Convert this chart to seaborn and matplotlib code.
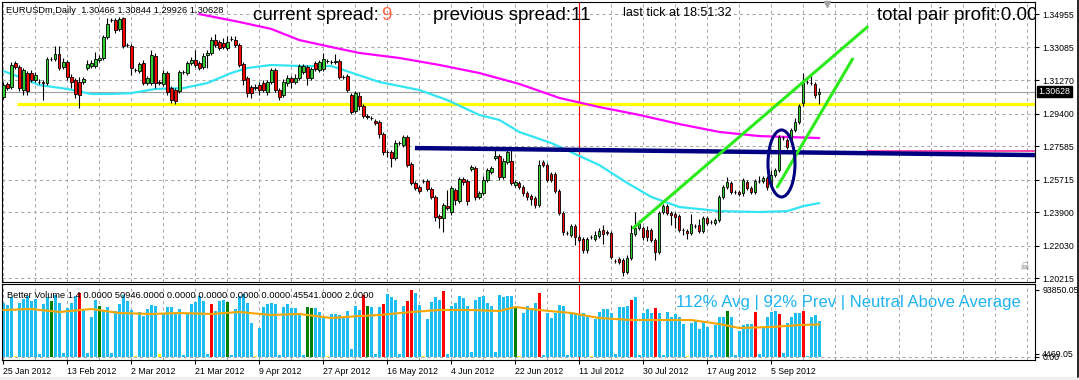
import matplotlib
matplotlib.use("Agg")
import numpy as np
import matplotlib.pyplot as plt
import matplotlib.transforms as mtrans
from matplotlib.patches import Ellipse, Rectangle
from matplotlib.lines import Line2D
import seaborn as sns

# ---------------- data ----------------
symbol = "EURUSDm,Daily"

opens = [
    1.3032, 1.3105, 1.3088, 1.3222, 1.3200, 1.3071, 1.3166, 1.3166, 1.3127, 1.3116,
    1.3116, 1.3110, 1.3244, 1.3244, 1.3272, 1.3200, 1.3228, 1.3144, 1.3127, 1.3116,
    1.3116, 1.3194, 1.3205, 1.3205, 1.3239, 1.3250, 1.3367, 1.3462, 1.3462, 1.3412,
    1.3473, 1.3322, 1.3317, 1.3183, 1.3177, 1.3222, 1.3110, 1.3110, 1.3261, 1.3110,
    1.3105, 1.3166, 1.3082, 1.3071, 1.3066, 1.3172, 1.3166, 1.3222, 1.3239, 1.3222,
    1.3200, 1.3267, 1.3278, 1.3350, 1.3339, 1.3334, 1.3306, 1.3356, 1.3350, 1.3322,
    1.3216, 1.3138, 1.3088, 1.3082, 1.3099, 1.3110, 1.3060, 1.3116, 1.3183, 1.3071,
    1.3043, 1.3110, 1.3138, 1.3116, 1.3138, 1.3172, 1.3200, 1.3138, 1.3222, 1.3183,
    1.3188, 1.3233, 1.3228, 1.3228, 1.3233, 1.3144, 1.3149, 1.3043, 1.2954, 1.3038,
    1.2982, 1.2926, 1.2915, 1.2898, 1.2893, 1.2826, 1.2725, 1.2725, 1.2692, 1.2775,
    1.2764, 1.2809, 1.2658, 1.2552, 1.2530, 1.2563, 1.2563, 1.2518, 1.2474, 1.2368,
    1.2356, 1.2423, 1.2390, 1.2513, 1.2451, 1.2574, 1.2563, 1.2630, 1.2636, 1.2474,
    1.2496, 1.2569, 1.2613, 1.2692, 1.2703, 1.2586, 1.2669, 1.2675, 1.2541, 1.2552,
    1.2530, 1.2496, 1.2479, 1.2468, 1.2429, 1.2669, 1.2652, 1.2602, 1.2602, 1.2507,
    1.2384, 1.2273, 1.2262, 1.2312, 1.2250, 1.2239, 1.2178, 1.2250, 1.2239, 1.2256,
    1.2289, 1.2278, 1.2273, 1.2116, 1.2128, 1.2122, 1.2055, 1.2133, 1.2267, 1.2301,
    1.2301, 1.2289, 1.2289, 1.2234, 1.2167, 1.2390, 1.2423, 1.2384, 1.2379, 1.2368,
    1.2289, 1.2284, 1.2273, 1.2312, 1.2317, 1.2284, 1.2356, 1.2334, 1.2329, 1.2345,
    1.2474, 1.2530, 1.2552, 1.2502, 1.2502, 1.2496, 1.2558, 1.2524, 1.2502, 1.2563,
    1.2563, 1.2580, 1.2541, 1.2597, 1.2625, 1.2803, 1.2792, 1.2792, 1.2848, 1.2893,
    1.2999, 1.3116, 1.3110, 1.3105, 1.30466,
]
highs = [
    1.3116, 1.3116, 1.3228, 1.3233, 1.3211, 1.3194, 1.3177, 1.3183, 1.3172, 1.3133,
    1.3127, 1.3255, 1.3255, 1.3317, 1.3317, 1.3250, 1.3239, 1.3161, 1.3138, 1.3144,
    1.3144, 1.3239, 1.3239, 1.3283, 1.3267, 1.3378, 1.3473, 1.3473, 1.3473, 1.3479,
    1.3479, 1.3334, 1.3328, 1.3194, 1.3228, 1.3239, 1.3149, 1.3295, 1.3278, 1.3127,
    1.3183, 1.3177, 1.3094, 1.3082, 1.3183, 1.3183, 1.3233, 1.3255, 1.3295, 1.3233,
    1.3278, 1.3295, 1.3367, 1.3384, 1.3350, 1.3362, 1.3373, 1.3373, 1.3373, 1.3334,
    1.3228, 1.3149, 1.3099, 1.3105, 1.3116, 1.3127, 1.3127, 1.3194, 1.3194, 1.3082,
    1.3133, 1.3155, 1.3149, 1.3161, 1.3216, 1.3216, 1.3211, 1.3200, 1.3233, 1.3239,
    1.3278, 1.3244, 1.3239, 1.3272, 1.3244, 1.3155, 1.3161, 1.3054, 1.3066, 1.3060,
    1.2993, 1.2937, 1.2926, 1.2909, 1.2904, 1.2837, 1.2736, 1.2736, 1.2792, 1.2787,
    1.2820, 1.2820, 1.2669, 1.2563, 1.2541, 1.2574, 1.2574, 1.2530, 1.2485, 1.2379,
    1.2440, 1.2513, 1.2535, 1.2524, 1.2586, 1.2586, 1.2574, 1.2652, 1.2647, 1.2507,
    1.2591, 1.2636, 1.2647, 1.2736, 1.2714, 1.2692, 1.2736, 1.2736, 1.2569, 1.2563,
    1.2541, 1.2507, 1.2491, 1.2479, 1.2680, 1.2680, 1.2664, 1.2613, 1.2613, 1.2518,
    1.2395, 1.2284, 1.2323, 1.2323, 1.2262, 1.2250, 1.2250, 1.2262, 1.2284, 1.2301,
    1.2317, 1.2289, 1.2284, 1.2128, 1.2139, 1.2133, 1.2150, 1.2317, 1.2390, 1.2345,
    1.2312, 1.2312, 1.2301, 1.2245, 1.2395, 1.2435, 1.2435, 1.2395, 1.2390, 1.2379,
    1.2301, 1.2295, 1.2379, 1.2323, 1.2351, 1.2368, 1.2368, 1.2345, 1.2356, 1.2485,
    1.2541, 1.2586, 1.2563, 1.2513, 1.2513, 1.2580, 1.2569, 1.2535, 1.2574, 1.2591,
    1.2591, 1.2591, 1.2625, 1.2636, 1.2820, 1.2814, 1.2803, 1.2859, 1.2915, 1.2993,
    1.3166, 1.3127, 1.3166, 1.3116, 1.30844,
]
lows = [
    1.3021, 1.3071, 1.3077, 1.3188, 1.3066, 1.3043, 1.3043, 1.3116, 1.3116, 1.3105,
    1.3015, 1.3099, 1.3233, 1.3233, 1.3183, 1.3188, 1.3127, 1.3082, 1.3027, 1.2971,
    1.3105, 1.3183, 1.3194, 1.3194, 1.3228, 1.3239, 1.3356, 1.3451, 1.3389, 1.3401,
    1.3306, 1.3311, 1.3155, 1.3172, 1.3166, 1.3099, 1.3099, 1.3099, 1.3082, 1.3099,
    1.3094, 1.3043, 1.2999, 1.2993, 1.3054, 1.3161, 1.3155, 1.3211, 1.3200, 1.3183,
    1.3188, 1.3194, 1.3267, 1.3311, 1.3295, 1.3300, 1.3295, 1.3345, 1.3311, 1.3200,
    1.3099, 1.3032, 1.3027, 1.3071, 1.3043, 1.3060, 1.3043, 1.3105, 1.3060, 1.3015,
    1.3032, 1.3094, 1.3082, 1.3105, 1.3127, 1.3161, 1.3099, 1.3127, 1.3177, 1.3172,
    1.3177, 1.3222, 1.3216, 1.3216, 1.3133, 1.3133, 1.3060, 1.2937, 1.2943, 1.2960,
    1.2915, 1.2909, 1.2904, 1.2876, 1.2803, 1.2708, 1.2697, 1.2641, 1.2680, 1.2764,
    1.2753, 1.2641, 1.2541, 1.2513, 1.2496, 1.2552, 1.2507, 1.2463, 1.2340, 1.2301,
    1.2278, 1.2401, 1.2373, 1.2429, 1.2440, 1.2541, 1.2429, 1.2619, 1.2457, 1.2463,
    1.2485, 1.2558, 1.2602, 1.2680, 1.2569, 1.2574, 1.2658, 1.2541, 1.2530, 1.2518,
    1.2479, 1.2457, 1.2429, 1.2412, 1.2418, 1.2641, 1.2558, 1.2558, 1.2496, 1.2373,
    1.2262, 1.2262, 1.2250, 1.2206, 1.2223, 1.2161, 1.2161, 1.2239, 1.2228, 1.2245,
    1.2211, 1.2262, 1.2128, 1.2105, 1.2100, 1.2032, 1.2044, 1.2122, 1.2256, 1.2289,
    1.2234, 1.2228, 1.2223, 1.2122, 1.2156, 1.2379, 1.2373, 1.2317, 1.2301, 1.2278,
    1.2262, 1.2239, 1.2262, 1.2301, 1.2273, 1.2273, 1.2317, 1.2323, 1.2317, 1.2334,
    1.2463, 1.2518, 1.2491, 1.2491, 1.2479, 1.2479, 1.2513, 1.2491, 1.2491, 1.2552,
    1.2552, 1.2513, 1.2530, 1.2586, 1.2613, 1.2792, 1.2742, 1.2781, 1.2837, 1.2881,
    1.2982, 1.3105, 1.3099, 1.3027, 1.29926,
]
closes = [
    1.3099, 1.3082, 1.3211, 1.3200, 1.3082, 1.3183, 1.3066, 1.3127, 1.3155, 1.3118,
    1.3110, 1.3244, 1.3246, 1.3272, 1.3194, 1.3228, 1.3144, 1.3116, 1.3049, 1.3043,
    1.3133, 1.3216, 1.3222, 1.3244, 1.3250, 1.3367, 1.3440, 1.3464, 1.3406, 1.3468,
    1.3317, 1.3324, 1.3194, 1.3185, 1.3216, 1.3110, 1.3138, 1.3267, 1.3110, 1.3116,
    1.3166, 1.3060, 1.3015, 1.3010, 1.3172, 1.3174, 1.3222, 1.3239, 1.3211, 1.3194,
    1.3261, 1.3278, 1.3350, 1.3322, 1.3306, 1.3311, 1.3339, 1.3358, 1.3322, 1.3211,
    1.3127, 1.3054, 1.3054, 1.3088, 1.3071, 1.3071, 1.3116, 1.3183, 1.3071, 1.3032,
    1.3116, 1.3138, 1.3116, 1.3138, 1.3205, 1.3205, 1.3138, 1.3188, 1.3188, 1.3228,
    1.3244, 1.3235, 1.3230, 1.3233, 1.3144, 1.3146, 1.3071, 1.2948, 1.3054, 1.2982,
    1.2926, 1.2920, 1.2917, 1.2887, 1.2826, 1.2725, 1.2727, 1.2692, 1.2775, 1.2777,
    1.2809, 1.2652, 1.2552, 1.2524, 1.2507, 1.2565, 1.2518, 1.2474, 1.2362, 1.2356,
    1.2429, 1.2412, 1.2524, 1.2457, 1.2574, 1.2558, 1.2451, 1.2641, 1.2474, 1.2496,
    1.2569, 1.2625, 1.2636, 1.2703, 1.2586, 1.2675, 1.2725, 1.2552, 1.2558, 1.2530,
    1.2496, 1.2474, 1.2463, 1.2429, 1.2652, 1.2652, 1.2569, 1.2569, 1.2507, 1.2384,
    1.2278, 1.2275, 1.2312, 1.2250, 1.2234, 1.2178, 1.2239, 1.2252, 1.2262, 1.2284,
    1.2267, 1.2273, 1.2139, 1.2118, 1.2111, 1.2055, 1.2133, 1.2273, 1.2301, 1.2323,
    1.2250, 1.2250, 1.2234, 1.2167, 1.2384, 1.2423, 1.2384, 1.2373, 1.2362, 1.2289,
    1.2291, 1.2273, 1.2323, 1.2314, 1.2284, 1.2356, 1.2329, 1.2336, 1.2345, 1.2474,
    1.2530, 1.2558, 1.2502, 1.2504, 1.2491, 1.2569, 1.2524, 1.2502, 1.2563, 1.2565,
    1.2580, 1.2530, 1.2597, 1.2625, 1.2809, 1.2805, 1.2753, 1.2848, 1.2893, 1.2982,
    1.3110, 1.3118, 1.3112, 1.3043, 1.30628,
]
volumes = [
    75600, 72800, 84000, 1400, 75600, 81200, 85400, 78400, 81200, 4200,
    74200, 84000, 78400, 86800, 75600, 5600, 68600, 75600, 85400, 89600,
    67200, 5600, 56000, 79800, 71400, 64400, 70000, 5600, 64400, 74200,
    86800, 78400, 65800, 1400, 63000, 57400, 67200, 72800, 71400, 4200,
    60200, 70000, 70000, 63000, 67200, 2800, 61600, 74200, 77000, 85400,
    78400, 4200, 74200, 64400, 78400, 79800, 77000, 2800, 67200, 85400,
    88200, 75600, 47600, 1400, 40600, 70000, 74200, 75600, 74200, 2800,
    70000, 74200, 68600, 68600, 61600, 2800, 70000, 68600, 68600, 63000,
    56000, 1400, 60200, 60200, 58800, 56000, 64400, 11200, 71400, 65800,
    86800, 71400, 70000, 4200, 70000, 74200, 88200, 84000, 79800, 4200,
    71400, 78400, 93850, 89600, 72800, 1400, 53200, 77000, 84000, 79800,
    92400, 4200, 71400, 75600, 85400, 82600, 71400, 7000, 79800, 84000,
    85400, 75600, 71400, 7000, 86800, 84000, 85400, 85400, 68600, 1400,
    61600, 71400, 67200, 75600, 89600, 2800, 61600, 54600, 61600, 72800,
    71400, 2800, 60200, 60200, 58800, 61600, 56000, 1400, 53200, 63000,
    67200, 67200, 61600, 4200, 70000, 70000, 71400, 79800, 84000, 2800,
    61600, 67200, 61600, 68600, 61600, 2800, 63000, 56000, 60200, 56000,
    46200, 1400, 47600, 50400, 39200, 50400, 42000, 2800, 44800, 56000,
    56000, 64400, 56000, 2800, 36400, 44800, 46200, 46200, 63000, 4200,
    42000, 56000, 63000, 64400, 60200, 5600, 47600, 56000, 61600, 61600,
    64400, 1400, 56000, 58800, 50946,
]
# Better Volume bar class: N normal, C climax high, H high churn, L low volume
vol_type = list(
    "NNNLNNNNNN" "NNHNNNNNNC" "NNNNHNNNNN" "NNNLNNNNNL" "NNNNNNNNNN"
    "NNCNNNHNNN" "NNNLNNNNNN" "NNNNNNHHNN" "NLNNNNNNNN" "CHNNNCNNNN"
    "NCCNNLNNNN" "CNNNNNNNNN" "NNNNNNNNHL" "NNNNCNNNNN" "NNNNNNNLNN"
    "NNNNNNNCNN" "NNNCNNNNNN" "NLNNNNNNNN" "NHNNNNNNCN" "NNNNCNNNNN"
    "CNNNN"
)
vol_avg_idx = [0, 7, 14, 22, 29, 37, 44, 52, 59, 67, 74, 82, 89, 94, 102, 109, 117,
               124, 128, 134, 142, 149, 157, 164, 172, 179, 184, 192, 199, 204]
vol_avg_val = [65800, 67200, 63000, 67200, 61600, 60200, 61600, 60200, 63000, 58800,
               60200, 54600, 57400, 58800, 63000, 65800, 65800, 64400, 70000, 65800,
               61600, 54600, 51800, 51800, 51800, 46200, 40600, 42000, 44800, 45541]

date_labels = ["25 Jan 2012", "13 Feb 2012", "2 Mar 2012", "21 Mar 2012", "9 Apr 2012",
               "27 Apr 2012", "16 May 2012", "4 Jun 2012", "22 Jun 2012", "11 Jul 2012",
               "30 Jul 2012", "17 Aug 2012", "5 Sep 2012"]
price_ticks = [1.34955, 1.33085, 1.31270, 1.29400, 1.27585, 1.25715, 1.23900, 1.22030, 1.20215]

ma_slow_idx = [49, 59, 67, 74, 82, 89, 99, 109, 119, 129, 139, 149, 159, 169, 179, 189, 204]
ma_slow_val = [1.3495, 1.3451, 1.3412, 1.3350, 1.3311, 1.3278, 1.3250, 1.3211, 1.3166,
               1.3105, 1.3027, 1.2976, 1.2932, 1.2881, 1.2837, 1.2814, 1.2803]
ma_fast_idx = [0, 4, 9, 16, 22, 27, 32, 38, 45, 51, 57, 61, 67, 74, 82, 85, 94, 104, 111,
               119, 124, 129, 137, 149, 156, 162, 169, 179, 189, 196, 200, 204]
ma_fast_val = [1.3177, 1.3144, 1.3099, 1.3077, 1.3049, 1.3049, 1.3054, 1.3077, 1.3082,
               1.3110, 1.3166, 1.3194, 1.3211, 1.3205, 1.3205, 1.3183, 1.3116, 1.3071,
               1.3015, 1.2932, 1.2904, 1.2837, 1.2775, 1.2652, 1.2552, 1.2474, 1.2418,
               1.2395, 1.2390, 1.2395, 1.2423, 1.2440]

support_level = 1.2994          # yellow horizontal
support_start = 3.4
navy_idx = [102.9, 257.9]
navy_val = [1.2747, 1.2708]
pink_idx = [216.0, 257.9]
pink_val = [1.2733, 1.2733]
trend_a_idx = [157.5, 216.0]
trend_a_val = [1.2301, 1.3423]
trend_b_idx = [193.5, 212.3]
trend_b_val = [1.2530, 1.3244]
ellipse_center = (194.55, 1.2661)
ellipse_size = (6.75, 0.0374)
marker_bar = 144
shift_bar = 205.9

current_spread = 9
previous_spread = 11
last_tick = "18:51:32"
total_profit = "0.00"
vol_max_label = 93850.05
vol_min_label = 4469.05
bv_header = [1.4, 0.0, 50946.0, 0.0, 0.0, 0.0, 0.0, 45541.0, 2.0]
bv_status = "112% Avg | 92% Prev | Neutral Above Average"

# ---------------- style ----------------
sns.set_style("white")
plt.rcParams['font.family'] = ['Liberation Sans', 'DejaVu Sans']

W, H = 1079, 380
fig = plt.figure(figsize=(W / 100, H / 100), dpi=100)
fig.patch.set_facecolor("white")

def fx(px):
    return px / W

def fy(py):
    return 1 - py / H

X_LEFT, X_RIGHT = 2, 1035
BAR_PX = 4.0
ax = fig.add_axes([fx(X_LEFT), fy(282), (X_RIGHT - X_LEFT) / W, 280 / H])
axv = fig.add_axes([fx(X_LEFT), fy(360), (X_RIGHT - X_LEFT) / W, 76 / H])

x0 = -(3.3 - X_LEFT) / BAR_PX
x1 = x0 + (X_RIGHT - X_LEFT) / BAR_PX
for a in (ax, axv):
    a.set_xlim(x0, x1)
    a.set_facecolor("white")
    for s in a.spines.values():
        s.set_color("black")
        s.set_linewidth(0.8)
ax.set_ylim(1.19993, 1.35625)
axv.set_ylim(-4200, 102200)

grid_kw = dict(color="#A8A8A8", lw=0.75, ls=(0, (3, 3)), zorder=0.5)
for k in range(0, int(x1) + 1, 8):
    ax.axvline(k, **grid_kw)
    axv.axvline(k, **grid_kw)
for p in price_ticks:
    ax.axhline(p, **grid_kw)
axv.axhline(0, **grid_kw)

n = len(closes)
x = np.arange(n)
o = np.array(opens); h = np.array(highs); l = np.array(lows); c = np.array(closes)

# bid line, red time marker
ax.axhline(closes[-1], color="#A0A0A0", lw=0.8, zorder=1)
ax.axvline(marker_bar, color="#FF0000", lw=0.8, zorder=1.5)
axv.axvline(marker_bar, color="#FF0000", lw=0.8, zorder=1.5)

# support line
ax.hlines(support_level, support_start, x1, color="#FFFF00", lw=2.3, zorder=2)

# moving averages
sns.lineplot(x=ma_slow_idx, y=ma_slow_val, ax=ax, color="#FF00FF", lw=1.6,
             estimator=None, sort=False, legend=False, zorder=2)
sns.lineplot(x=ma_fast_idx, y=ma_fast_val, ax=ax, color="#33E5F2", lw=1.6,
             estimator=None, sort=False, legend=False, zorder=2)

# candles
ax.vlines(x, l, h, color="black", lw=0.8, zorder=4)
up = c >= o
body_bot = np.minimum(o, c)
body_h = np.maximum(np.abs(c - o), 0.00004)
ax.bar(x, body_h, bottom=body_bot, width=0.6,
       color=np.where(up, "#32CD32", "#FF0000"),
       edgecolor="black", linewidth=0.6, zorder=5)

# horizontal resistance (navy) and the thin pink level
ax.plot(pink_idx, pink_val, color="#FF1493", lw=1.1, zorder=5.5)
ax.plot(navy_idx, navy_val, color="#000080", lw=3.2, zorder=6, solid_capstyle="butt")

# green trend lines and ellipse
sns.lineplot(x=trend_a_idx, y=trend_a_val, ax=ax, color="#2BEA1A", lw=2.2,
             estimator=None, sort=False, legend=False, zorder=7)
sns.lineplot(x=trend_b_idx, y=trend_b_val, ax=ax, color="#2BEA1A", lw=2.2,
             estimator=None, sort=False, legend=False, zorder=7)
ax.add_patch(Ellipse(ellipse_center, ellipse_size[0], ellipse_size[1], fill=False,
                     edgecolor="#000080", lw=2.2, zorder=7))

# shift marker
ax.plot([shift_bar], [1.3554], marker="v", color="#A0A0A0", markersize=5,
        clip_on=False, zorder=8)

# price axis
ax.set_xticks([])
ax.yaxis.tick_right()
ax.set_yticks(price_ticks)
ax.set_yticklabels([f"{p:.5f}" for p in price_ticks])
ax.tick_params(axis="y", length=3, width=0.8, pad=2.2, labelsize=6.3,
               colors="black", direction="out", left=False, right=True)
trans = mtrans.blended_transform_factory(ax.transAxes, ax.transData)
ax.text(1 + 3.5 / (X_RIGHT - X_LEFT), closes[-1], f"{closes[-1]:.5f}", transform=trans,
        ha="left", va="center", fontsize=6.3, color="white", clip_on=False, zorder=10,
        bbox=dict(boxstyle="square,pad=0.15", fc="black", ec="black"))

# volume panel
vol_colors = {"N": "#1EBEF2", "C": "#FF0000", "H": "#008000", "L": "#FFFF00"}
axv.bar(x, volumes, width=0.75, color=[vol_colors[t] for t in vol_type],
        linewidth=0, zorder=2)
sns.lineplot(x=vol_avg_idx, y=vol_avg_val, ax=axv, color="#FFA500", lw=1.5,
             estimator=None, sort=False, legend=False, zorder=3)
axv.yaxis.tick_right()
axv.set_yticks([0, vol_min_label, vol_max_label])
axv.set_yticklabels(["0.00", f"{vol_min_label:.2f}", f"{vol_max_label:.2f}"])
axv.tick_params(axis="y", length=3, width=0.8, pad=2.2, labelsize=6.3,
                colors="black", left=False, right=True)
date_ticks = [16 * k for k in range(len(date_labels))]
axv.set_xticks(date_ticks)
axv.set_xticklabels(date_labels, ha="left")
axv.tick_params(axis="x", length=3, width=0.8, pad=2, labelsize=6.3,
                colors="black", bottom=True)
for a in (ax, axv):
    a.set_xlabel("")
    a.set_ylabel("")

bv_text = "Better Volume " + " ".join(
    [f"{bv_header[0]:.1f}"] + [f"{v:.4f}" for v in bv_header[1:]])
axv.text(fx(7), fy(295), bv_text, transform=fig.transFigure, ha="left", va="center",
         fontsize=6.7, color="black", zorder=10)
axv.text(fx(676), fy(303), bv_status, transform=fig.transFigure, ha="left",
         va="center", fontsize=12, color="#1EB4F0", zorder=10)

# header texts
ohlc = f"{opens[-1]:.5f} {highs[-1]:.5f} {lows[-1]:.5f} {closes[-1]:.5f}"
fig.text(fx(6), fy(10.5), f"{symbol}  {ohlc}", ha="left", va="center",
         fontsize=6.7, color="black")
fig.text(fx(253), fy(15), "current spread:", ha="left", va="center",
         fontsize=13.5, color="black")
fig.text(fx(381), fy(15), f"{current_spread}", ha="left", va="center",
         fontsize=13.5, color="#FF6347")
fig.text(fx(433), fy(15), f"previous spread:{previous_spread}", ha="left",
         va="center", fontsize=13.5, color="black")
fig.text(fx(623), fy(12.5), f"last tick at {last_tick}", ha="left", va="center",
         fontsize=9, color="black")
ax.text(fx(877), fy(15), f"total pair profit:{total_profit}", transform=fig.transFigure,
        ha="left", va="center", fontsize=13.5, color="black", clip_on=True, zorder=10)
fig.text(fx(1024), fy(267), "\u2620", ha="center", va="center", fontsize=8,
         color="#808080", family="DejaVu Sans")

# window decorations
fig.add_artist(Rectangle((0, 0), 1, 3 / H, transform=fig.transFigure,
                         color="#EEEEEE", zorder=0))
fig.add_artist(Line2D([fx(1078), fx(1078)], [fy(0), fy(377)], color="black",
                      lw=1.2, transform=fig.transFigure))

fig.savefig("out.png", dpi=100)
